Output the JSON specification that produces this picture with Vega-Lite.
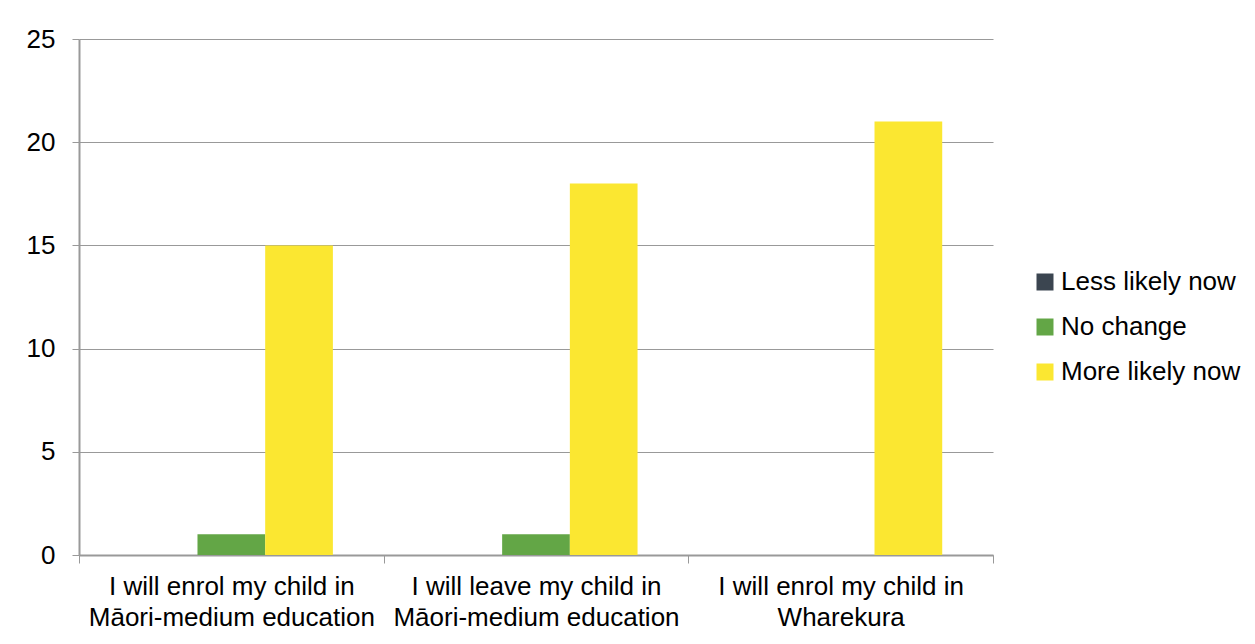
{
  "$schema": "https://vega.github.io/schema/vega-lite/v6.json",
  "width": 914,
  "height": 516,
  "autosize": {"type": "none"},
  "padding": {"left": 79, "top": 39, "right": 262, "bottom": 89},
  "background": "white",
  "config": {
    "font": "Liberation Sans",
    "view": {"stroke": null}
  },
  "data": {
    "values": [
      {"statement": "I will enrol my child in Māori-medium education", "response": "Less likely now", "count": 0},
      {"statement": "I will enrol my child in Māori-medium education", "response": "No change", "count": 1},
      {"statement": "I will enrol my child in Māori-medium education", "response": "More likely now", "count": 15},
      {"statement": "I will leave my child in Māori-medium education", "response": "Less likely now", "count": 0},
      {"statement": "I will leave my child in Māori-medium education", "response": "No change", "count": 1},
      {"statement": "I will leave my child in Māori-medium education", "response": "More likely now", "count": 18},
      {"statement": "I will enrol my child in Wharekura", "response": "Less likely now", "count": 0},
      {"statement": "I will enrol my child in Wharekura", "response": "No change", "count": 0},
      {"statement": "I will enrol my child in Wharekura", "response": "More likely now", "count": 21}
    ]
  },
  "mark": {"type": "bar"},
  "encoding": {
    "x": {
      "field": "statement",
      "type": "nominal",
      "sort": null,
      "title": null,
      "scale": {"paddingInner": 0, "paddingOuter": 0},
      "axis": {
        "labelAngle": 0,
        "labelFontSize": 26,
        "labelColor": "#000000",
        "labelLineHeight": 31,
        "labelPadding": 10,
        "labelLimit": 400,
        "labelExpr": "[slice(datum.label, 0, indexof(datum.label, ' in ') + 3), slice(datum.label, indexof(datum.label, ' in ') + 4)]",
        "tickBand": "extent",
        "tickSize": 8,
        "tickColor": "#999999",
        "domainColor": "#999999",
        "domainWidth": 2,
        "grid": false
      }
    },
    "xOffset": {
      "field": "response",
      "type": "nominal",
      "sort": ["Less likely now", "No change", "More likely now"],
      "scale": {"paddingInner": 0, "paddingOuter": 0.75}
    },
    "y": {
      "field": "count",
      "type": "quantitative",
      "title": null,
      "scale": {"domain": [0, 25]},
      "axis": {
        "values": [0, 5, 10, 15, 20, 25],
        "labelFontSize": 26,
        "labelColor": "#000000",
        "labelPadding": 17,
        "tickSize": 7,
        "tickColor": "#999999",
        "domainColor": "#999999",
        "domainWidth": 2,
        "gridColor": "#999999",
        "gridWidth": 1
      }
    },
    "color": {
      "field": "response",
      "type": "nominal",
      "sort": ["Less likely now", "No change", "More likely now"],
      "scale": {
        "domain": ["Less likely now", "No change", "More likely now"],
        "range": ["#3B4550", "#63A646", "#FBE731"]
      },
      "legend": {
        "title": null,
        "orient": "none",
        "legendX": 953,
        "legendY": 230,
        "symbolType": "square",
        "symbolSize": 289,
        "symbolStrokeWidth": 0,
        "labelFontSize": 26,
        "labelColor": "#000000",
        "labelOffset": 3,
        "rowPadding": 19,
        "labelLimit": 300
      }
    }
  }
}
